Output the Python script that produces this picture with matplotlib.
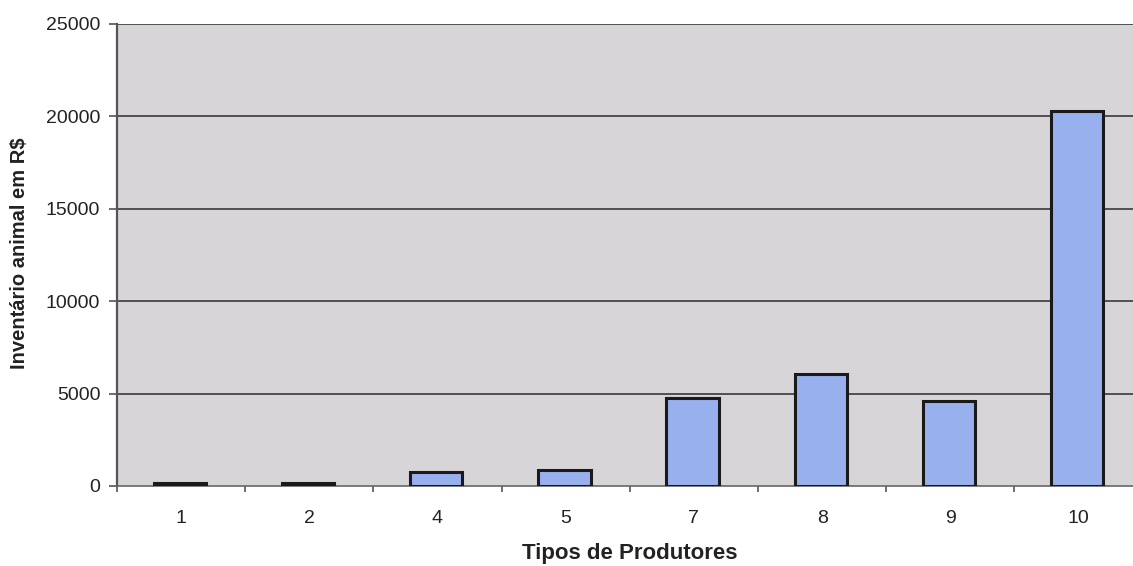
import matplotlib
matplotlib.use("Agg")
import matplotlib.pyplot as plt
import numpy as np

plt.rcParams['font.family'] = ['Liberation Sans', 'DejaVu Sans']

# Producer types and their animal inventory (R$)
tipos = ["1", "2", "4", "5", "7", "8", "9", "10"]
inventario = [150, 150, 740, 850, 4780, 6050, 4600, 20300]
y_ticks = [0, 5000, 10000, 15000, 20000, 25000]

W, H = 1133, 566
fig = plt.figure(figsize=(W / 100, H / 100), dpi=100)
fig.patch.set_facecolor("white")

left, right = 117, 117 + 8 * 128.2
top, bottom = 24, 486
ax = fig.add_axes([left / W, 1 - bottom / H, (right - left) / W, (bottom - top) / H])
ax.set_facecolor("#d7d5d8")

x = np.arange(len(tipos))
ax.bar(x - 0.01, inventario, width=0.41, color="#99b0ef", edgecolor="#1a1a1a",
       linewidth=2.2, zorder=3)

ax.set_xlim(-0.5, len(tipos) - 0.5)
ax.set_ylim(0, 25000)
ax.set_yticks(y_ticks)
ax.set_yticklabels([str(v) for v in y_ticks], fontsize=14, color="#222222")
ax.set_xticks(x)
ax.set_xticklabels(tipos, fontsize=14, color="#222222")
# category separators on the x axis
ax.set_xticks(np.arange(-0.5, len(tipos)), minor=True)
ax.tick_params(axis="x", which="major", length=0, pad=17)
ax.tick_params(axis="x", which="minor", length=4, width=1.2, color="#555555")
ax.tick_params(axis="y", length=6, width=1.2, color="#555555", pad=6)

for v in y_ticks[1:]:
    ax.axhline(v, color="#3a3a3a", linewidth=1.2, zorder=2)

for side in ["top", "right"]:
    ax.spines[side].set_visible(False)
ax.spines["left"].set_color("#555555")
ax.spines["left"].set_linewidth(1.6)
ax.spines["bottom"].set_color("#666666")
ax.spines["bottom"].set_linewidth(1.2)

fig.text(20 / W, 1 - 253 / H, "Inventário animal em R$", rotation=90,
         ha="center", va="center", fontsize=14.5, fontweight="bold", color="#222222")
fig.text(630 / W, 1 - 554 / H, "Tipos de Produtores", ha="center", va="center",
         fontsize=16, fontweight="bold", color="#222222")

fig.savefig("out.png", dpi=100, facecolor="white")
